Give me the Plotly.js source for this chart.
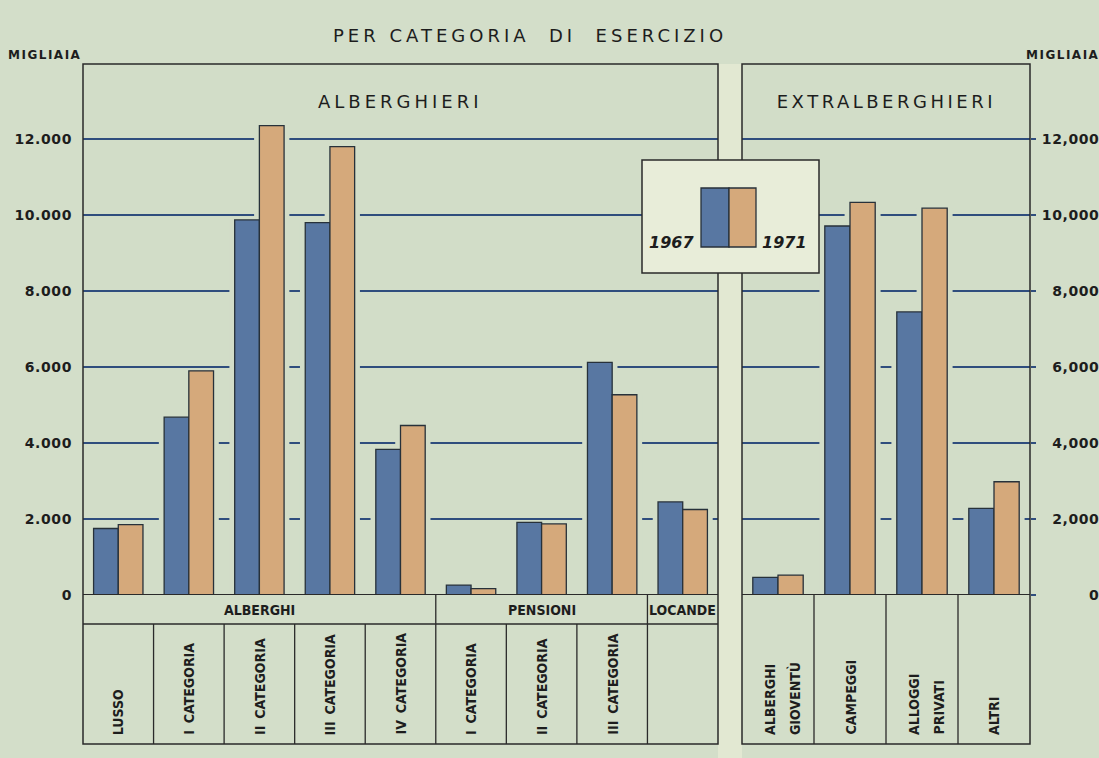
<!DOCTYPE html>
<html>
<head>
<meta charset="utf-8">
<script src="https://cdn.plot.ly/plotly-3.0.1.min.js"></script>
<style>
  html, body { margin: 0; padding: 0; background: #d3dec9; }
  #chart { width: 1099px; height: 758px; }
</style>
</head>
<body>
<div id="chart"></div>
<script>
// ---------------- DATA ----------------
const leftCategories = ['Alberghi lusso', 'Alberghi I cat.', 'Alberghi II cat.', 'Alberghi III cat.', 'Alberghi IV cat.',
                        'Pensioni I cat.', 'Pensioni II cat.', 'Pensioni III cat.', 'Locande'];
const leftLabels = ['LUSSO', 'I\u00a0\u2009CATEGORIA', 'II\u00a0\u2009CATEGORIA', 'III\u00a0\u2009CATEGORIA', 'IV\u00a0\u2009CATEGORIA',
                    'I\u00a0\u2009CATEGORIA', 'II\u00a0\u2009CATEGORIA', 'III\u00a0\u2009CATEGORIA', ''];
const leftGroups = ['ALBERGHI', 'ALBERGHI', 'ALBERGHI', 'ALBERGHI', 'ALBERGHI', 'PENSIONI', 'PENSIONI', 'PENSIONI', 'LOCANDE'];
const left1967 = [1750, 4680, 9870, 9800, 3830, 260, 1910, 6120, 2450];
const left1971 = [1850, 5900, 12350, 11800, 4460, 170, 1870, 5270, 2250];

const rightCategories = ['Alberghi per la gioventù', 'Campeggi', 'Alloggi privati', 'Altri'];
const rightLabels = ['ALBERGHI<br>GIOVENTÙ', 'CAMPEGGI', 'ALLOGGI<br>PRIVATI', 'ALTRI'];
const right1967 = [465, 9710, 7450, 2280];
const right1971 = [525, 10330, 10180, 2980];

const seriesNames = ['1967', '1971'];
const yTickValues = [0, 2000, 4000, 6000, 8000, 10000, 12000];
const leftTickText = ['0', '2.000', '4.000', '6.000', '8.000', '10.000', '12.000'];
const rightTickText = ['\u2007\u2007\u2007\u2007\u20080', '\u20072,000', '\u20074,000', '\u20076,000', '\u20078,000', '10,000', '12,000'];

const chartTitle = 'PER CATEGORIA\u00a0\u00a0DI\u00a0\u00a0ESERCIZIO';
const unitLabel = 'MIGLIAIA';
const leftPanelTitle = 'ALBERGHIERI';
const rightPanelTitle = 'EXTRALBERGHIERI';

// ---------------- STYLE ----------------
const BG = '#d3dec9';
const PANEL = '#d2ddc8';
const GAP = '#e2e8d2';
const BLUE = '#5877a2';
const TAN = '#d5a97b';
const EDGE = '#27313a';
const GRID = '#2f4d7d';
const INK = '#1d1d1d';
const LINE = '#2a2a2a';
const W = 1099, H = 758;
const M = {l: 83, r: 69, t: 64, b: 163};
const PW = W - M.l - M.r, PH = H - M.t - M.b;
const px2x = p => (p - M.l) / PW;
const px2y = p => (H - M.b - p) / PH;

const BAR_W = 0.35, HALO = 0.075;

function pairTraces(xa, ya, cats, v67, v71) {
  const halo = (vals, off) => ({
    type: 'bar', x: cats, y: vals, xaxis: xa, yaxis: ya,
    offset: off - HALO, width: BAR_W + 2 * HALO,
    marker: {color: PANEL, line: {width: 0}}, showlegend: false, hoverinfo: 'skip'
  });
  const bar = (vals, off, color, name) => ({
    type: 'bar', name: name, x: cats, y: vals, xaxis: xa, yaxis: ya,
    offset: off, width: BAR_W,
    marker: {color: color, line: {color: EDGE, width: 1.3}}, showlegend: false
  });
  return [halo(v67, -BAR_W), halo(v71, 0),
          bar(v67, -BAR_W, BLUE, seriesNames[0]), bar(v71, 0, TAN, seriesNames[1])];
}

const traces = [
  ...pairTraces('x', 'y', leftCategories, left1967, left1971),
  ...pairTraces('x2', 'y2', rightCategories, right1967, right1971)
];

const yMax = (H - M.b - M.t) / (H - M.b - 139) * 12000;   // top of frame relative to the 12.000 line
const yBase = {
  range: [0, yMax], tickvals: yTickValues, showgrid: true, gridcolor: GRID, gridwidth: 1.4,
  zeroline: false, showline: false, fixedrange: true,
  tickfont: {family: 'DejaVu Sans', size: 14, color: INK, weight: 'bold'}
};

const yRowBottom = px2y(744);
const yRowMid = px2y(624);
const xLeftEnd = px2x(718), xRightStart = px2x(742);

const shapes = [];
// light strip between panels
shapes.push({type: 'rect', xref: 'paper', yref: 'paper', x0: xLeftEnd, x1: xRightStart, y0: px2y(758), y1: 1,
             fillcolor: GAP, line: {width: 0}, layer: 'below'});
// panel frames
shapes.push({type: 'rect', xref: 'x domain', yref: 'paper', x0: 0, x1: 1, y0: yRowBottom, y1: 1, line: {color: LINE, width: 1.5}});
shapes.push({type: 'rect', xref: 'x2 domain', yref: 'paper', x0: 0, x1: 1, y0: yRowBottom, y1: 1, line: {color: LINE, width: 1.5}});
// base lines
shapes.push({type: 'line', xref: 'x domain', yref: 'y', x0: 0, x1: 1, y0: 0, y1: 0, line: {color: LINE, width: 1.8}});
shapes.push({type: 'line', xref: 'x2 domain', yref: 'y2', x0: 0, x1: 1, y0: 0, y1: 0, line: {color: LINE, width: 1.8}});
// group row line (left)
shapes.push({type: 'line', xref: 'x domain', yref: 'paper', x0: 0, x1: 1, y0: yRowMid, y1: yRowMid, line: {color: LINE, width: 1.5}});
// dividers between categories (left)
for (let i = 0; i < leftCategories.length - 1; i++) {
  const groupBreak = leftGroups[i] !== leftGroups[i + 1];
  shapes.push({type: 'line', xref: 'x', yref: 'paper', x0: i + 0.5, x1: i + 0.5,
               y0: yRowBottom, y1: groupBreak ? 0 : yRowMid, line: {color: LINE, width: 1.3}});
}
for (let i = 0; i < rightCategories.length - 1; i++) {
  shapes.push({type: 'line', xref: 'x2', yref: 'paper', x0: i + 0.5, x1: i + 0.5,
               y0: yRowBottom, y1: 0, line: {color: LINE, width: 1.3}});
}
// legend box
shapes.push({type: 'rect', xref: 'paper', yref: 'paper', x0: px2x(642), x1: px2x(819), y0: px2y(273), y1: px2y(160),
             fillcolor: '#e8edd9', line: {color: LINE, width: 1.5}});
shapes.push({type: 'rect', xref: 'paper', yref: 'paper', x0: px2x(701), x1: px2x(729), y0: px2y(247), y1: px2y(188),
             fillcolor: BLUE, line: {color: EDGE, width: 1.3}});
shapes.push({type: 'rect', xref: 'paper', yref: 'paper', x0: px2x(729), x1: px2x(756), y0: px2y(247), y1: px2y(188),
             fillcolor: TAN, line: {color: EDGE, width: 1.3}});

const catFont = {family: 'DejaVu Sans Condensed, sans-serif', size: 14, color: INK, weight: 'bold'};
const groupFont = {family: 'DejaVu Sans Condensed, sans-serif', size: 14, color: INK, weight: 'bold'};
const annotations = [];
function addCatLabel(xref, cat, label) {
  const lines = label.split('<br>');
  lines.forEach((ln, k) => {
    const shift = lines.length > 1 ? (k - (lines.length - 1) / 2) * 25 + 4 : 0;
    annotations.push({xref: xref, yref: 'paper', x: cat, y: px2y(737), text: ln, xshift: shift,
      textangle: -90, xanchor: 'center', yanchor: 'bottom', align: 'left', showarrow: false, font: catFont});
  });
}
leftCategories.forEach((c, i) => { if (leftLabels[i]) addCatLabel('x', c, leftLabels[i]); });
rightCategories.forEach((c, i) => addCatLabel('x2', c, rightLabels[i]));
// group labels (centred over their span of categories)
const groupNames = [...new Set(leftGroups)];
groupNames.forEach(g => {
  const idx = leftGroups.map((v, i) => v === g ? i : -1).filter(i => i >= 0);
  const mid = (idx[0] + idx[idx.length - 1]) / 2;
  annotations.push({xref: 'x', yref: 'paper', x: mid, y: px2y(610), text: g, xanchor: 'center', yanchor: 'middle',
    showarrow: false, font: groupFont});
});
const headFont = {family: 'DejaVu Sans', size: 18, color: INK};
annotations.push({xref: 'paper', yref: 'paper', x: px2x(530), y: px2y(35), text: chartTitle, xanchor: 'center', yanchor: 'middle', showarrow: false, font: headFont});
annotations.push({xref: 'x domain', yref: 'paper', x: 0.5, y: px2y(102), text: leftPanelTitle, xanchor: 'center', yanchor: 'middle', showarrow: false, font: headFont});
annotations.push({xref: 'x2 domain', yref: 'paper', x: 0.5, y: px2y(102), text: rightPanelTitle, xanchor: 'center', yanchor: 'middle', showarrow: false, font: headFont});
const unitFont = {family: 'DejaVu Sans', size: 12, color: INK, weight: 'bold'};
annotations.push({xref: 'paper', yref: 'paper', x: px2x(12), y: px2y(55), text: unitLabel, xanchor: 'left', yanchor: 'middle', showarrow: false, font: unitFont});
annotations.push({xref: 'paper', yref: 'paper', x: px2x(1030), y: px2y(55), text: unitLabel, xanchor: 'left', yanchor: 'middle', showarrow: false, font: unitFont});
const legFont = {family: 'DejaVu Sans', size: 16, color: INK, weight: 'bold', style: 'italic'};
annotations.push({xref: 'paper', yref: 'paper', x: px2x(696), y: px2y(243), text: seriesNames[0], xanchor: 'right', yanchor: 'middle', showarrow: false, font: legFont});
annotations.push({xref: 'paper', yref: 'paper', x: px2x(760), y: px2y(243), text: seriesNames[1], xanchor: 'left', yanchor: 'middle', showarrow: false, font: legFont});

const layout = {
  width: W, height: H,
  margin: M,
  paper_bgcolor: BG, plot_bgcolor: PANEL,
  barmode: 'overlay',
  showlegend: false,
  xaxis: {domain: [0, xLeftEnd], range: [-0.5, leftCategories.length - 0.5], type: 'category', anchor: 'y',
          showticklabels: false, showgrid: false, zeroline: false, showline: false, ticks: '', fixedrange: true},
  xaxis2: {domain: [xRightStart, 1], range: [-0.5, rightCategories.length - 0.5], type: 'category', anchor: 'y2',
           showticklabels: false, showgrid: false, zeroline: false, showline: false, ticks: '', fixedrange: true},
  yaxis: Object.assign({}, yBase, {anchor: 'x', side: 'left', ticktext: leftTickText, ticks: '', ticklabelstandoff: 10}),
  yaxis2: Object.assign({}, yBase, {anchor: 'x2', side: 'right', ticktext: rightTickText, ticks: 'outside', ticklen: 5,
                                    tickcolor: GRID, tickwidth: 1.4, ticklabelstandoff: 3}),
  shapes: shapes,
  annotations: annotations
};

const spacing = {};
spacing[chartTitle] = 4; spacing[leftPanelTitle] = 4; spacing[rightPanelTitle] = 3.5; spacing[unitLabel] = 1.5;

Plotly.newPlot('chart', traces, layout, {staticPlot: true, displayModeBar: false}).then(gd => {
  gd.querySelectorAll('text.annotation-text').forEach(t => {
    const s = spacing[t.textContent];
    if (s) t.style.letterSpacing = s + 'px';
  });
  gd.querySelectorAll('.ytick text, .y2tick text').forEach(t => { t.style.letterSpacing = '0.6px'; });
});
</script>
</body>
</html>
